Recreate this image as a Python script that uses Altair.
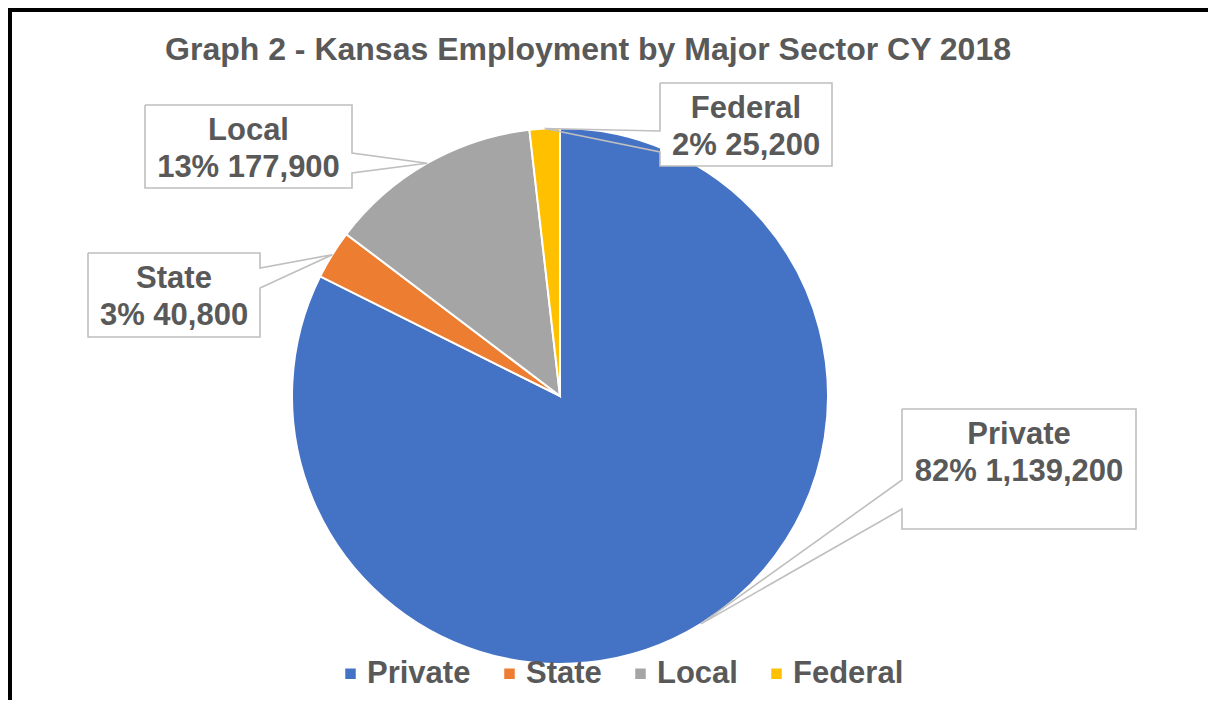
import math
import altair as alt
import pandas as pd

# ---------------- data ----------------
sectors = ["Private", "State", "Local", "Federal"]
employment = [1139200, 40800, 177900, 25200]
colors = ["#4472C4", "#ED7D31", "#A5A5A5", "#FFC000"]
title_text = "Graph 2 - Kansas Employment by Major Sector CY 2018"

# ---------------- layout (screen pixels) ----------------
OFF = 8                      # page margin
W, H = 1200, 692             # drawing area
CX, CY, R = 560, 396, 268    # pie centre / radius
FONT = "Liberation Sans"
TXT = "#595959"
# callout boxes: left, top, right, bottom, notch side, notch y1, notch y2
boxes = {
    "Private": (902, 409, 1136, 529, "left", 480, 509),
    "State": (88, 253, 260, 337, "right", 268, 288),
    "Local": (145, 105, 352, 188, "right", 153, 173),
    "Federal": (660, 83, 832, 166, "left", 131, 152),
}

total = sum(employment)
pie_df = pd.DataFrame({"sector": sectors, "value": employment, "idx": list(range(len(sectors)))})

# tips of the callout wedges: slice mid-angle on the pie edge
tips = {}
cum = 0
for s, v in zip(sectors, employment):
    mid = (cum + v / 2) / total * 2 * math.pi
    tips[s] = (CX + R * math.sin(mid), CY - R * math.cos(mid))
    cum += v

outline_rows, rect_rows, text_rows = [], [], []
for s, v in zip(sectors, employment):
    l, t, r, b, side, n1, n2 = boxes[s]
    tx, ty = tips[s]
    if side == "left":
        pts = [(l, t), (r, t), (r, b), (l, b), (l, n2), (tx, ty), (l, n1), (l, t)]
    else:
        pts = [(l, t), (r, t), (r, n1), (tx, ty), (r, n2), (r, b), (l, b), (l, t)]
    for i, (px, py) in enumerate(pts):
        outline_rows.append({"label": s, "ord": i, "x": px - OFF, "y": py - OFF})
    rect_rows.append({"label": s, "x": l - OFF, "x2": r - OFF, "y": t - OFF, "y2": b - OFF})
    cxb = (l + r) / 2 - OFF
    pct = round(100 * v / total)
    text_rows.append({"x": cxb, "y": t + 35 - OFF, "text": s})
    text_rows.append({"x": cxb, "y": t + 72 - OFF, "text": f"{pct}% {v:,}"})

outline_df = pd.DataFrame(outline_rows)
rect_df = pd.DataFrame(rect_rows)
text_df = pd.DataFrame(text_rows)
title_df = pd.DataFrame({"x": [588 - OFF], "y": [60 - OFF], "text": [title_text]})

xs = alt.Scale(domain=[0, W], range=[0, W], nice=False, zero=False)
ys = alt.Scale(domain=[0, H], range=[0, H], nice=False, zero=False)

frame = alt.Chart(pd.DataFrame({"a": [0]})).mark_rect(
    fillOpacity=0, stroke="black", strokeWidth=4
).encode(x=alt.value(2), y=alt.value(2), x2=alt.value(W + 30), y2=alt.value(H + 30))

arc = alt.Chart(pie_df).mark_arc(outerRadius=R, stroke="white", strokeWidth=2).encode(
    theta=alt.Theta("value:Q", stack=True),
    order=alt.Order("idx:Q"),
    color=alt.Color(
        "sector:N",
        scale=alt.Scale(domain=sectors, range=colors),
        sort=sectors,
        legend=alt.Legend(
            title=None, orient="none", direction="horizontal",
            legendX=327, legendY=650,
            symbolType="square", symbolSize=110, symbolStrokeWidth=0,
            labelFont=FONT, labelFontWeight="bold", labelFontSize=31,
            labelColor=TXT, labelOffset=1, columnPadding=23, labelLimit=400,
        ),
    ),
    x=alt.value(CX - OFF),
    y=alt.value(CY - OFF),
)

box_fill = alt.Chart(rect_df).mark_rect(fill="white").encode(
    x=alt.X("x:Q", scale=xs, axis=None), x2="x2:Q",
    y=alt.Y("y:Q", scale=ys, axis=None), y2="y2:Q",
)

outlines = alt.Chart(outline_df).mark_line(stroke="#BFBFBF", strokeWidth=1.6).encode(
    x=alt.X("x:Q", scale=xs, axis=None),
    y=alt.Y("y:Q", scale=ys, axis=None),
    detail="label:N",
    order="ord:Q",
)

labels = alt.Chart(text_df).mark_text(
    font=FONT, fontSize=31, fontWeight="bold", color=TXT, align="center", baseline="alphabetic"
).encode(
    x=alt.X("x:Q", scale=xs, axis=None),
    y=alt.Y("y:Q", scale=ys, axis=None),
    text="text:N",
)

title = alt.Chart(title_df).mark_text(
    font=FONT, fontSize=32, fontWeight="bold", color=TXT, align="center", baseline="alphabetic"
).encode(
    x=alt.X("x:Q", scale=xs, axis=None),
    y=alt.Y("y:Q", scale=ys, axis=None),
    text="text:N",
)

chart = alt.layer(frame, arc, box_fill, outlines, labels, title).properties(
    width=W, height=H, padding=0, autosize=alt.AutoSizeParams(type="none")
).configure_view(stroke=None)

chart.save("out.html", embed_options={"renderer": "svg", "actions": False})
